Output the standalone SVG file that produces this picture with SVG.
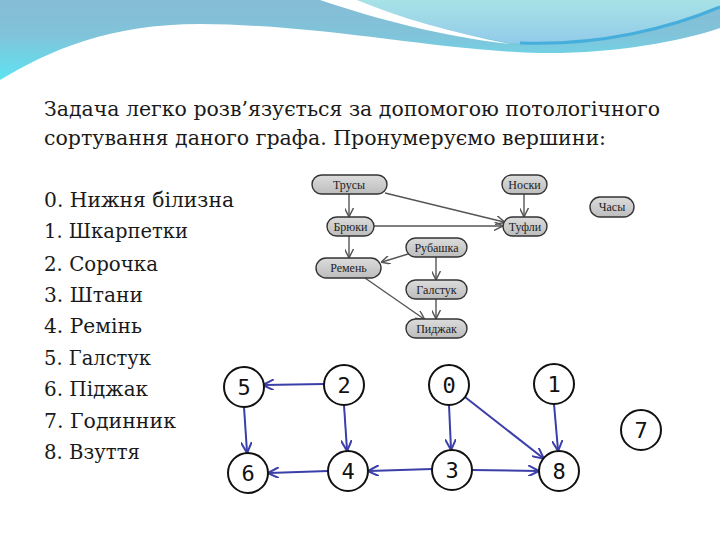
<svg xmlns="http://www.w3.org/2000/svg" width="720" height="540" viewBox="0 0 720 540">
<defs>
<linearGradient id="bg1" x1="0" y1="0" x2="0" y2="1">
<stop offset="0" stop-color="#86bcd6"/>
<stop offset="0.45" stop-color="#80c4da"/>
<stop offset="1" stop-color="#5ee3f2"/>
</linearGradient>
<linearGradient id="bg2" x1="0" y1="0" x2="0" y2="1">
<stop offset="0" stop-color="#a8e2e6"/>
<stop offset="1" stop-color="#92cbe9"/>
</linearGradient>
<linearGradient id="pill" x1="0" y1="0" x2="0" y2="1">
<stop offset="0" stop-color="#dcdcdc"/>
<stop offset="1" stop-color="#bdbdbd"/>
</linearGradient>
<marker id="ag" viewBox="0 0 10 10" refX="9" refY="5" markerWidth="9" markerHeight="9" markerUnits="userSpaceOnUse" orient="auto">
<path d="M0,0 L10,5 L0,10" fill="none" stroke="#555" stroke-width="1.6"/>
</marker>
<marker id="ab" viewBox="0 0 10 10" refX="9" refY="5" markerWidth="11" markerHeight="11" markerUnits="userSpaceOnUse" orient="auto">
<path d="M0,0 L10,5 L0,10" fill="none" stroke="#3b3fa8" stroke-width="1.8"/>
</marker>
</defs>
<style>
.t{font-family:"DejaVu Serif","Liberation Serif",serif;font-size:20px;fill:#1a1a1a}
.li{font-family:"DejaVu Serif","Liberation Serif",serif;font-size:20.5px;fill:#1a1a1a}
.p rect{fill:url(#pill);stroke:#333;stroke-width:1.4}
.p text{font-family:"Liberation Serif","DejaVu Serif",serif;font-size:12px;fill:#222;text-anchor:middle}
.eg{stroke:#555;stroke-width:1.4;fill:none;marker-end:url(#ag)}
.n circle{fill:#fff;stroke:#111;stroke-width:2}
.n text{font-family:"DejaVu Sans Mono",monospace;font-size:22px;fill:#111;text-anchor:middle}
.eb{stroke:#3b3fa8;stroke-width:2;fill:none;marker-end:url(#ab)}
</style>
<rect width="720" height="540" fill="#fff"/>
<g id="header">
<path d="M0,0 H720 V28 C680,42 610,54 540,53 C430,50 330,25 200,24 C110,24 50,50 0,80 Z" fill="url(#bg1)"/>
<path d="M357,0 H720 V7 C670,26 600,46 520,43 L510,43 C440,30 390,15 357,0 Z" fill="url(#bg2)"/>
<path d="M320,0 L357,0 C400,18 450,32 510,44 C440,36 380,20 320,0 Z" fill="#fff"/>
<path d="M520,43 C600,46 670,28 720,7" fill="none" stroke="#45aedc" stroke-width="3"/>
</g>
<g id="title">
<text class="t" x="44" y="116" textLength="616" lengthAdjust="spacingAndGlyphs">Задача легко розв’язується за допомогою потологічного</text>
<text class="t" x="44" y="145" textLength="562" lengthAdjust="spacingAndGlyphs">сортування даного графа. Пронумеруємо вершини:</text>
</g>
<g id="list">
<text class="li" x="44" y="207" textLength="190" lengthAdjust="spacingAndGlyphs">0. Нижня білизна</text>
<text class="li" x="44" y="238" textLength="144" lengthAdjust="spacingAndGlyphs">1. Шкарпетки</text>
<text class="li" x="44" y="271" textLength="114" lengthAdjust="spacingAndGlyphs">2. Сорочка</text>
<text class="li" x="44" y="302" textLength="99" lengthAdjust="spacingAndGlyphs">3. Штани</text>
<text class="li" x="44" y="333" textLength="98" lengthAdjust="spacingAndGlyphs">4. Ремінь</text>
<text class="li" x="44" y="365" textLength="107" lengthAdjust="spacingAndGlyphs">5. Галстук</text>
<text class="li" x="44" y="396" textLength="104" lengthAdjust="spacingAndGlyphs">6. Піджак</text>
<text class="li" x="44" y="428" textLength="132" lengthAdjust="spacingAndGlyphs">7. Годинник</text>
<text class="li" x="44" y="459" textLength="96" lengthAdjust="spacingAndGlyphs">8. Взуття</text>
</g>
<g id="top-edges">
<line class="eg" x1="349" y1="194" x2="349" y2="216"/>
<line class="eg" x1="385" y1="193" x2="504" y2="222"/>
<line class="eg" x1="524" y1="194" x2="524" y2="216"/>
<line class="eg" x1="374" y1="226" x2="502" y2="226"/>
<line class="eg" x1="349" y1="236" x2="349" y2="257"/>
<line class="eg" x1="408" y1="254" x2="382" y2="262"/>
<line class="eg" x1="436" y1="257" x2="436" y2="279"/>
<line class="eg" x1="436" y1="299" x2="436" y2="318"/>
<line class="eg" x1="365" y1="278" x2="424" y2="319"/>
</g>
<g id="trusy" class="p"><rect x="312" y="175" width="75" height="19" rx="9.5"/><text x="349" y="188.5">Трусы</text></g>
<g id="noski" class="p"><rect x="502" y="175" width="45" height="19" rx="9.5"/><text x="524.5" y="188.5">Носки</text></g>
<g id="chasy" class="p"><rect x="590" y="197" width="44" height="20" rx="10"/><text x="612" y="211">Часы</text></g>
<g id="bryuki" class="p"><rect x="327" y="217" width="47" height="19" rx="9.5"/><text x="350.5" y="230.5">Брюки</text></g>
<g id="tufli" class="p"><rect x="503" y="217" width="44" height="19" rx="9.5"/><text x="525" y="230.5">Туфли</text></g>
<g id="rubashka" class="p"><rect x="406" y="238" width="61" height="19" rx="9.5"/><text x="436.5" y="251.5">Рубашка</text></g>
<g id="remen" class="p"><rect x="316" y="258" width="65" height="20" rx="10"/><text x="348.5" y="272">Ремень</text></g>
<g id="galstuk" class="p"><rect x="406" y="280" width="61" height="19" rx="9.5"/><text x="436.5" y="293.5">Галстук</text></g>
<g id="pidzhak" class="p"><rect x="406" y="319" width="61" height="19" rx="9.5"/><text x="436.5" y="332.5">Пиджак</text></g>
<g id="bottom-edges">
<line class="eb" x1="324" y1="384" x2="264" y2="385"/>
<line class="eb" x1="244" y1="407" x2="247" y2="452"/>
<line class="eb" x1="344" y1="405" x2="347" y2="450"/>
<line class="eb" x1="449" y1="405" x2="451" y2="449"/>
<line class="eb" x1="465" y1="397" x2="543" y2="458"/>
<line class="eb" x1="554" y1="404" x2="558" y2="450"/>
<line class="eb" x1="432" y1="469" x2="369" y2="471"/>
<line class="eb" x1="328" y1="471" x2="269" y2="473"/>
<line class="eb" x1="472" y1="470" x2="538" y2="471"/>
</g>
<g id="n5" class="n"><circle cx="244" cy="387" r="20"/><text x="244" y="395">5</text></g>
<g id="n2" class="n"><circle cx="344" cy="385" r="20"/><text x="344" y="393">2</text></g>
<g id="n0" class="n"><circle cx="449" cy="385" r="20"/><text x="449" y="393">0</text></g>
<g id="n1" class="n"><circle cx="554" cy="384" r="20"/><text x="554" y="392">1</text></g>
<g id="n7" class="n"><circle cx="641" cy="430" r="20"/><text x="641" y="438">7</text></g>
<g id="n6" class="n"><circle cx="248" cy="473" r="20"/><text x="248" y="481">6</text></g>
<g id="n4" class="n"><circle cx="348" cy="471" r="20"/><text x="348" y="479">4</text></g>
<g id="n3" class="n"><circle cx="452" cy="470" r="20"/><text x="452" y="478">3</text></g>
<g id="n8" class="n"><circle cx="559" cy="471" r="20"/><text x="559" y="479">8</text></g>
</svg>
